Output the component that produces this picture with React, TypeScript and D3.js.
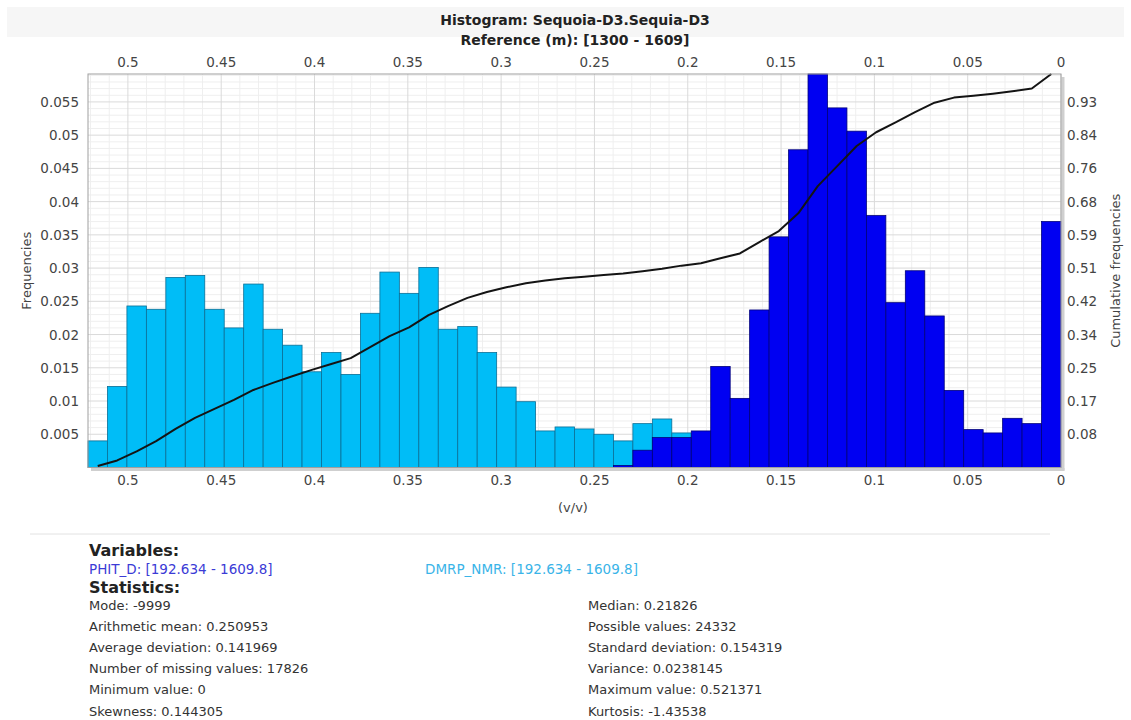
import React from "react";
import * as d3 from "d3";

// ---------- data (bins listed from the left of the plot: 0.5214 -> 0) ----------
const xMaxValue = 0.521371;
const binCount = 50;
const yMaxValue = 0.0592;

const dmrpNmr = [
  0.0040, 0.0122, 0.0243, 0.0238, 0.0286, 0.0289, 0.0238, 0.0210, 0.0276, 0.0208,
  0.0184, 0.0144, 0.0173, 0.0140, 0.0232, 0.0294, 0.0262, 0.0301, 0.0208, 0.0212,
  0.0173, 0.0121, 0.0099, 0.0055, 0.0061, 0.0058, 0.0050, 0.0040, 0.0066, 0.0073,
  0.0052, 0, 0, 0, 0, 0, 0, 0, 0, 0,
  0, 0, 0, 0, 0, 0, 0, 0, 0, 0,
];

const phitD = [
  0, 0, 0, 0, 0, 0, 0, 0, 0, 0,
  0, 0, 0, 0, 0, 0, 0, 0, 0, 0,
  0, 0, 0, 0, 0, 0, 0, 0.0003, 0.0026, 0.0045,
  0.0045, 0.0055, 0.0152, 0.0104, 0.0237, 0.0347, 0.0478, 0.0592, 0.0541, 0.0506,
  0.0379, 0.0248, 0.0296, 0.0228, 0.0116, 0.0057, 0.0052, 0.0074, 0.0066, 0.0370,
];

const cumulative = [
  0.004, 0.018, 0.041, 0.067, 0.098, 0.126, 0.149, 0.172, 0.197, 0.215,
  0.232, 0.248, 0.263, 0.278, 0.306, 0.334, 0.356, 0.387, 0.410, 0.431,
  0.446, 0.458, 0.468, 0.475, 0.481, 0.485, 0.489, 0.493, 0.499, 0.505,
  0.513, 0.519, 0.532, 0.544, 0.573, 0.601, 0.646, 0.715, 0.766, 0.817,
  0.852, 0.877, 0.903, 0.927, 0.940, 0.945, 0.950, 0.956, 0.963, 1.0,
];

const xTicks = [0.5, 0.45, 0.4, 0.35, 0.3, 0.25, 0.2, 0.15, 0.1, 0.05, 0];
const yTicks = [0.005, 0.01, 0.015, 0.02, 0.025, 0.03, 0.035, 0.04, 0.045, 0.05, 0.055];

const titleLines = ["Histogram: Sequoia-D3.Sequia-D3", "Reference (m): [1300 - 1609]"];
const variableLabels = ["PHIT_D: [192.634 - 1609.8]", "DMRP_NMR: [192.634 - 1609.8]"];
const statsLeft = [
  "Mode: -9999",
  "Arithmetic mean: 0.250953",
  "Average deviation: 0.141969",
  "Number of missing values: 17826",
  "Minimum value: 0",
  "Skewness: 0.144305",
];
const statsRight = [
  "Median: 0.21826",
  "Possible values: 24332",
  "Standard deviation: 0.154319",
  "Variance: 0.0238145",
  "Maximum value: 0.521371",
  "Kurtosis: -1.43538",
];

// ---------- layout ----------
const W = 1131;
const H = 720;
const plot = { left: 88, right: 1061, top: 74, bottom: 467.5 };
const FONT = "'DejaVu Sans', Verdana, sans-serif";
const colorNmr = "#00bdf7";
const colorPhit = "#0000f2";

export default function App() {
  const x = d3.scaleLinear().domain([xMaxValue, 0]).range([plot.left, plot.right]);
  const y = d3.scaleLinear().domain([0, yMaxValue]).range([plot.bottom, plot.top]);
  const yCum = d3.scaleLinear().domain([0, 1]).range([plot.bottom, plot.top]);

  const binW = xMaxValue / binCount;
  const bins = d3.range(binCount).map((i) => {
    const hi = xMaxValue - i * binW;
    const lo = hi - binW;
    return { i, hi, lo, mid: (hi + lo) / 2 };
  });

  const xMinor = d3.range(0, 0.5201, 0.01).filter((v) => Math.abs(v * 20 - Math.round(v * 20)) > 1e-6);
  const yMinor = d3.range(0.001, yMaxValue, 0.001).filter((v) => Math.abs(v * 200 - Math.round(v * 200)) > 1e-6);

  const line = d3
    .line<number>()
    .x((_, i) => x(bins[i].mid))
    .y((d) => yCum(d));

  const rightTicks = yTicks.map((v) => v / yMaxValue);
  const fmt2 = d3.format(".2f");

  const barRect = (values: number[], fill: string, stroke: string) =>
    bins.map((b) =>
      values[b.i] > 0 ? (
        <rect
          key={b.i}
          x={x(b.hi)}
          y={y(values[b.i])}
          width={x(b.lo) - x(b.hi)}
          height={y(0) - y(values[b.i])}
          fill={fill}
          stroke={stroke}
          strokeWidth={0.8}
        />
      ) : null
    );

  const plotCy = (plot.top + plot.bottom) / 2;

  return (
    <svg
      width={W}
      height={H}
      style={{ position: "absolute", left: 0, top: 0, background: "#fff" }}
      fontFamily={FONT}
    >
      {/* title band */}
      <rect x={7} y={7} width={1117} height={30} fill="#f6f6f6" />
      {titleLines.map((t, i) => (
        <text key={t} x={575} y={19.5 + i * 20} textAnchor="middle" dominantBaseline="central" fontSize={14} fontWeight="bold" fill="#222">
          {t}
        </text>
      ))}

      {/* grid */}
      <g>
        {xMinor.map((v) => (
          <line key={"xm" + v} x1={x(v)} x2={x(v)} y1={plot.top} y2={plot.bottom} stroke="#efefef" strokeWidth={1} />
        ))}
        {yMinor.map((v) => (
          <line key={"ym" + v} x1={plot.left} x2={plot.right} y1={y(v)} y2={y(v)} stroke="#efefef" strokeWidth={1} />
        ))}
        {xTicks.map((v) => (
          <line key={"xM" + v} x1={x(v)} x2={x(v)} y1={plot.top} y2={plot.bottom} stroke="#dadada" strokeWidth={1} />
        ))}
        {yTicks.map((v) => (
          <line key={"yM" + v} x1={plot.left} x2={plot.right} y1={y(v)} y2={y(v)} stroke="#dadada" strokeWidth={1} />
        ))}
      </g>

      {/* bars */}
      <g>{barRect(dmrpNmr, colorNmr, "#0b6f96")}</g>
      <g>{barRect(phitD, colorPhit, "#00007a")}</g>

      {/* cumulative line */}
      <path d={line(cumulative) || ""} fill="none" stroke="#141414" strokeWidth={2} strokeLinejoin="round" />

      {/* frame with shadow */}
      <line x1={plot.right + 2} x2={plot.right + 2} y1={plot.top + 3} y2={plot.bottom + 3} stroke="#cfcfcf" strokeWidth={3} />
      <line x1={plot.left + 3} x2={plot.right + 3.5} y1={plot.bottom + 2} y2={plot.bottom + 2} stroke="#cfcfcf" strokeWidth={3} />
      <rect x={plot.left} y={plot.top} width={plot.right - plot.left} height={plot.bottom - plot.top} fill="none" stroke="#a0a0a0" strokeWidth={1} />

      {/* x tick labels top and bottom */}
      {xTicks.map((v) => (
        <g key={"xt" + v}>
          <text x={x(v)} y={62} textAnchor="middle" dominantBaseline="central" fontSize={13.5} fill="#444">
            {String(v)}
          </text>
          <text x={x(v)} y={480} textAnchor="middle" dominantBaseline="central" fontSize={13.5} fill="#444">
            {String(v)}
          </text>
        </g>
      ))}

      {/* left ticks */}
      {yTicks.map((v) => (
        <text key={"yt" + v} x={79} y={y(v)} textAnchor="end" dominantBaseline="central" fontSize={13.5} fill="#444">
          {String(v)}
        </text>
      ))}

      {/* right ticks */}
      {rightTicks.map((v) => (
        <text key={"rt" + v} x={1067} y={yCum(v)} textAnchor="start" dominantBaseline="central" fontSize={13.5} fill="#444">
          {fmt2(v)}
        </text>
      ))}

      {/* axis titles */}
      <text transform={`translate(26,${plotCy}) rotate(-90)`} textAnchor="middle" dominantBaseline="central" fontSize={13} fill="#444">
        Frequencies
      </text>
      <text transform={`translate(1115,${plotCy}) rotate(-90)`} textAnchor="middle" dominantBaseline="central" fontSize={13} fill="#444">
        Cumulative frequencies
      </text>
      <text x={573} y={507} textAnchor="middle" dominantBaseline="central" fontSize={13} fill="#444">
        (v/v)
      </text>

      {/* info panel */}
      <line x1={30} x2={1050} y1={534} y2={534} stroke="#e2e2e2" strokeWidth={1} />
      <text x={89} y={550} dominantBaseline="central" fontSize={16} fontWeight="bold" fill="#222">
        Variables:
      </text>
      <text x={89} y={569} dominantBaseline="central" fontSize={13.5} fill="#3b3bd6">
        {variableLabels[0]}
      </text>
      <text x={425} y={569} dominantBaseline="central" fontSize={13.5} fill="#3ab4e8">
        {variableLabels[1]}
      </text>
      <text x={89} y={587} dominantBaseline="central" fontSize={16} fontWeight="bold" fill="#222">
        Statistics:
      </text>
      {statsLeft.map((t, i) => (
        <text key={t} x={89} y={605 + i * 21.2} dominantBaseline="central" fontSize={13} fill="#333">
          {t}
        </text>
      ))}
      {statsRight.map((t, i) => (
        <text key={t} x={588} y={605 + i * 21.2} dominantBaseline="central" fontSize={13} fill="#333">
          {t}
        </text>
      ))}
    </svg>
  );
}
